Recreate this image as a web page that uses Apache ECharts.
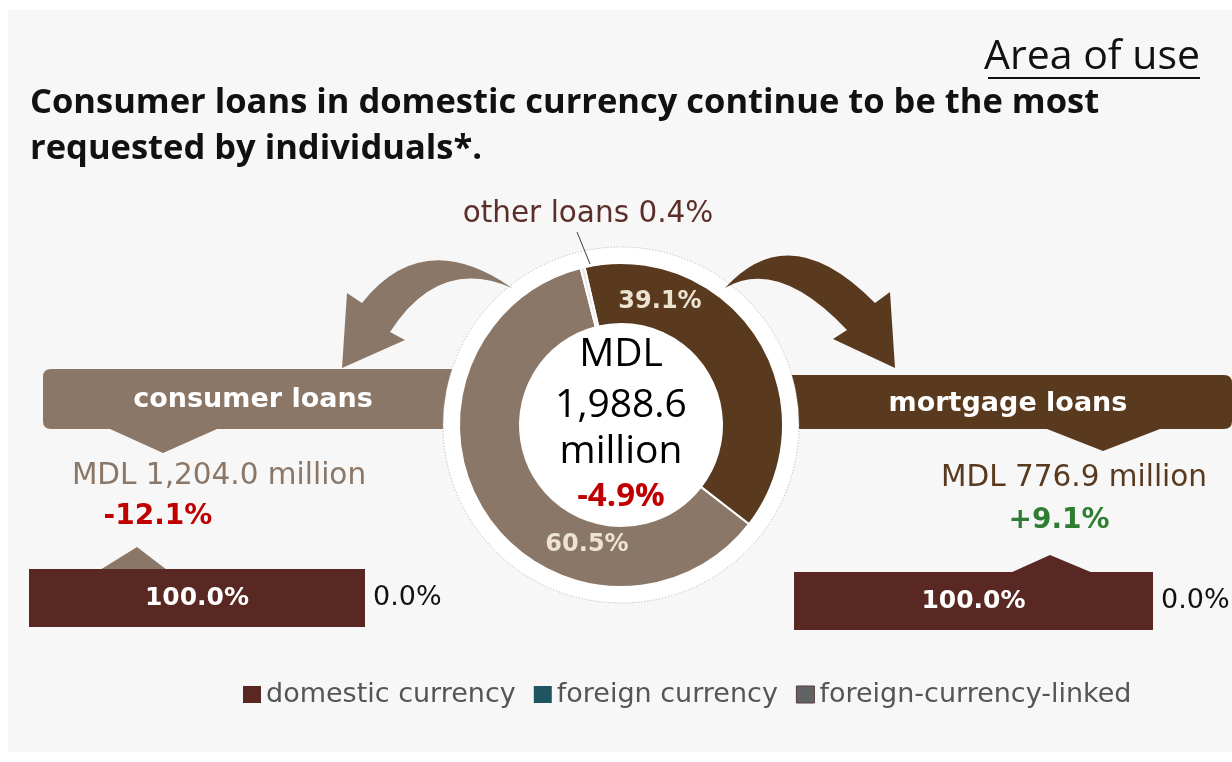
<!DOCTYPE html>
<html><head><meta charset="utf-8">
<script src="https://cdn.jsdelivr.net/npm/echarts@6/dist/echarts.min.js"></script>
<style>html,body{margin:0;padding:0;background:#fff}#c{width:1232px;height:762px}</style>
</head><body><div id="c"></div>
<script>
// ---- data ----
const pieNames = ['mortgage loans', 'consumer loans', 'other loans'];
const pieShares = [39.1, 60.5, 0.4];
const totalAmount = 1988.6;
const totalChange = -4.9;
const segmentNames = ['consumer loans', 'mortgage loans'];
const segmentAmounts = [1204.0, 776.9];
const segmentChanges = [-12.1, 9.1];
const currencyNames = ['domestic currency', 'foreign currency', 'foreign-currency-linked'];
const consumerCurrency = [100.0, 0.0, 0.0];
const mortgageCurrency = [100.0, 0.0, 0.0];
const titleLines = ['Consumer loans in domestic currency continue to be the most', 'requested by individuals*.'];
const sectionTitle = 'Area of use';

// ---- styles ----
const F = "'Open Sans','Noto Sans',sans-serif";
const D = "'DejaVu Sans','Noto Sans',sans-serif";
const C_MORT = '#5a3a1f', C_CONS = '#8b7767', C_OTHER = '#e9e5e0';
const C_DOM = '#5a2822', C_FOR = '#1e5560', C_LINK = '#5f6565';
const RED = '#c00000', GREEN = '#2e7d32';
const cx = 621, cy = 425;

const fmtAmt = v => v.toLocaleString('en-US', {minimumFractionDigits: 1, maximumFractionDigits: 1});
const fmtPct = v => v.toFixed(1) + '%';
const fmtChg = v => (v > 0 ? '+' : '') + v.toFixed(1) + '%';

// generic command-path shape (M/L/Q/Z)
echarts.graphic.registerShape('cmdpath', echarts.graphic.extendShape({
  shape: {cmds: []},
  buildPath: function (ctx, shape) {
    shape.cmds.forEach(c => {
      if (c[0] === 'M') ctx.moveTo(c[1], c[2]);
      else if (c[0] === 'L') ctx.lineTo(c[1], c[2]);
      else if (c[0] === 'Q') ctx.quadraticCurveTo(c[1], c[2], c[3], c[4]);
      else if (c[0] === 'Z') ctx.closePath();
    });
  }
}));
function parseCmds(d) {
  const toks = d.trim().split(/[\s,]+|(?=[MLQZ])|(?<=[MLQZ])/).filter(s => s.length);
  const out = []; let cur = null;
  toks.forEach(t => {
    if (/^[MLQZ]$/.test(t)) { cur = [t]; out.push(cur); }
    else cur.push(parseFloat(t));
  });
  return out;
}

const chart = echarts.init(document.getElementById('c'), null, {renderer: 'canvas'});

function txt(x, y, text, size, color, weight, font, align) {
  return {type: 'text', x: x, y: y, z: 10, style: {text: text, fontFamily: font || D, fontSize: size, fill: color,
    fontWeight: weight || 'normal', align: align || 'center', verticalAlign: 'middle'}};
}
function shp(d, fill, z) {
  return {type: 'cmdpath', z: z, shape: {cmds: parseCmds(d)}, style: {fill: fill}};
}

const graphics = [
  {type: 'rect', z: 0, shape: {x: 8, y: 10, width: 1224, height: 742}, style: {fill: '#f7f7f7'}},
  // banners
  shp('M51 369 L470 369 L470 429 L217 429 L163 453 L110 429 L51 429 Q43 429 43 421 L43 377 Q43 369 51 369 Z', C_CONS, 0),
  shp('M770 375 L1224 375 Q1232 375 1232 383 L1232 421 Q1232 429 1224 429 L1160 429 L1103 451 L1047 429 L770 429 Z', C_MORT, 0),
  // white ring behind donut
  {type: 'circle', z: 1, shape: {cx: cx, cy: cy, r: 178}, style: {fill: '#ffffff', stroke: '#b5b0aa', lineWidth: 1, lineDash: [1, 2]}},
  // arrows
  shp('M512 288 Q423 226 362 303 L347 293 L342 368 L405 340 L390 332 Q439 256 512 288 Z', C_CONS, 1),
  shp('M725 288 Q790 216 875 303 L890 292 L895 368 L833 339 L847 330 Q778 257 725 288 Z', C_MORT, 1),
  // small pointers above bars
  {type: 'polygon', z: 1, shape: {points: [[100, 570], [137, 547], [167, 570]]}, style: {fill: C_CONS}},
  {type: 'polygon', z: 1, shape: {points: [[1010, 573], [1050, 555], [1093, 573]]}, style: {fill: C_DOM}},
  // leader line for other loans
  {type: 'line', z: 10, shape: {x1: 577, y1: 232, x2: 590, y2: 264}, style: {stroke: '#4a3a35', lineWidth: 1}},
  // headings
  txt(1200, 57, sectionTitle, 41, '#111', 'normal', F, 'right'),
  {type: 'line', z: 10, shape: {x1: 988, y1: 78, x2: 1200, y2: 78}, style: {stroke: '#111', lineWidth: 2}},
  txt(30, 103, titleLines[0], 34.5, '#111', 'bold', F, 'left'),
  txt(30, 149, titleLines[1], 34.5, '#111', 'bold', F, 'left'),
  // donut labels
  txt(588, 214, pieNames[2] + ' ' + fmtPct(pieShares[2]), 29.5, '#5c2e2a'),
  txt(660, 302, fmtPct(pieShares[0]), 24, '#ece3d3', 'bold'),
  txt(587, 545, fmtPct(pieShares[1]), 24, '#ece3d3', 'bold'),
  txt(cx, 355, 'MDL', 39, '#000', 'normal', F),
  txt(cx, 406, fmtAmt(totalAmount), 39, '#000', 'normal', F),
  txt(cx, 452, 'million', 39, '#000', 'normal', F),
  txt(cx, 497, fmtChg(totalChange), 33, RED, 'bold', F),
  // banners text
  txt(253, 400, segmentNames[0], 27, '#fff', 'bold'),
  txt(1008, 404, segmentNames[1], 27, '#fff', 'bold'),
  txt(219, 476, 'MDL ' + fmtAmt(segmentAmounts[0]) + ' million', 29.5, C_CONS),
  txt(158, 517, fmtChg(segmentChanges[0]), 28, RED, 'bold'),
  txt(1074, 478, 'MDL ' + fmtAmt(segmentAmounts[1]) + ' million', 29.5, C_MORT),
  txt(1059, 521, fmtChg(segmentChanges[1]), 28, GREEN, 'bold')
];

const currencyColors = [C_DOM, C_FOR, C_LINK];
function barSeries(vals, gi) {
  return vals.map((v, j) => ({
    type: 'bar', name: currencyNames[j], stack: 'g' + gi, xAxisIndex: gi, yAxisIndex: gi,
    data: [v], barWidth: '100%', z: 3,
    itemStyle: {color: currencyColors[j]},
    label: j === 0 ? {show: true, position: 'inside', formatter: p => fmtPct(p.value), color: '#fff', fontFamily: D, fontSize: 25, fontWeight: 'bold'}
      : j === 1 ? {show: true, position: 'right', distance: 8, formatter: p => fmtPct(p.value), color: '#111', fontFamily: D, fontSize: 27}
      : {show: false}
  }));
}

chart.setOption({
  animation: false,
  backgroundColor: '#ffffff',
  graphic: graphics,
  legend: {
    data: currencyNames.map((n, j) => ({name: n, itemStyle: j === 2 ? {color: C_LINK, borderColor: '#5a3a3a', borderWidth: 1} : {color: currencyColors[j]}})),
    left: 238, top: 676, icon: 'rect', itemWidth: 18, itemHeight: 17, itemGap: 18, selectedMode: false,
    textStyle: {fontFamily: D, fontSize: 27, color: '#555'}
  },
  grid: [
    {left: 29, top: 569, width: 336, height: 58},
    {left: 794, top: 572, width: 359, height: 58}
  ],
  xAxis: [
    {type: 'value', gridIndex: 0, min: 0, max: 100, show: false},
    {type: 'value', gridIndex: 1, min: 0, max: 100, show: false}
  ],
  yAxis: [
    {type: 'category', gridIndex: 0, data: [segmentNames[0]], show: false},
    {type: 'category', gridIndex: 1, data: [segmentNames[1]], show: false}
  ],
  series: [
    {
      type: 'pie', z: 2, center: [cx, cy], radius: [101, 162], startAngle: 103, clockwise: true,
      label: {show: false}, labelLine: {show: false}, silent: true,
      itemStyle: {borderColor: '#fff', borderWidth: 2},
      data: pieNames.map((n, i) => ({name: n, value: pieShares[i], itemStyle: {color: [C_MORT, C_CONS, C_OTHER][i]}}))
    },
    ...barSeries(consumerCurrency, 0),
    ...barSeries(mortgageCurrency, 1)
  ]
});
</script></body></html>
